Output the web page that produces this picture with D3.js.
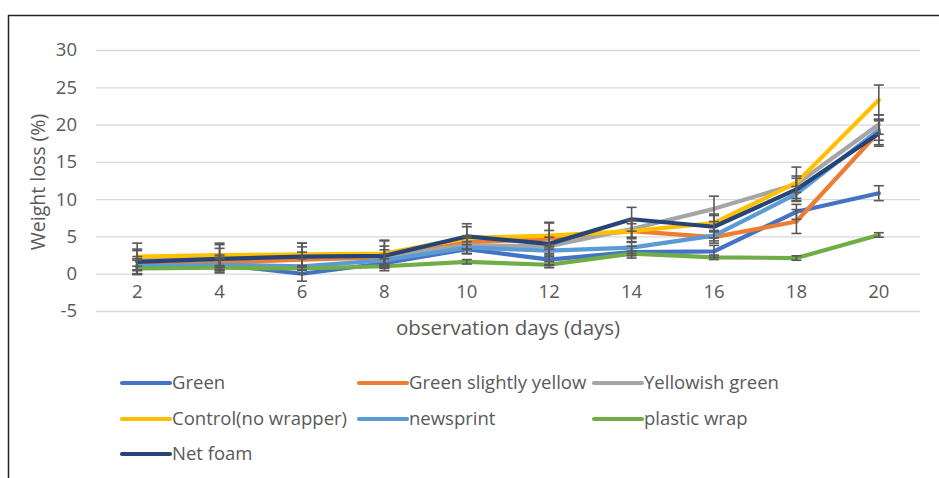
<!DOCTYPE html>
<html><head><meta charset="utf-8">
<script src="https://cdn.jsdelivr.net/npm/d3@7"></script>
<style>body{margin:0;background:#fff;}svg{display:block;font-family:"Open Sans",sans-serif;}</style>
</head><body>
<svg id="c" width="939" height="478"></svg>
<script>
const days = [2,4,6,8,10,12,14,16,18,20];
const yTicks = [-5,0,5,10,15,20,25,30];
const seriesNames = ["Green","Green slightly yellow","Yellowish green","Control(no wrapper)","newsprint","plastic wrap","Net foam"];
const seriesColors = ["#4472C4","#ED7D31","#A5A5A5","#FFC000","#5B9BD5","#70AD47","#264478"];
const green      = [0.9,1.2,0.0,1.4,3.3,1.9,2.9,3.0,8.3,10.8];
const greenSY    = [1.1,1.5,1.9,2.2,4.2,4.7,5.7,4.9,7.0,19.0];
const yellowishG = [1.8,2.1,2.3,2.4,3.8,3.7,6.0,8.7,12.0,20.0];
const control    = [2.3,2.5,2.6,2.7,4.8,5.1,5.7,6.8,12.2,23.3];
const newsprint  = [1.0,1.2,1.0,1.8,3.5,3.1,3.5,5.1,10.7,19.3];
const plastic    = [0.7,0.8,0.7,1.0,1.6,1.2,2.7,2.2,2.1,5.2];
const netFoam    = [1.6,2.0,2.3,2.4,5.0,4.0,7.3,6.3,11.3,18.8];
const greenErr      = [0.9,0.8,1.0,0.6,0.6,0.8,0.8,0.8,1.0,1.0];
const greenSYErr    = [1.2,1.0,1.0,1.0,0.9,1.1,1.0,0.8,1.6,1.7];
const yellowishGErr = [1.3,1.3,1.3,1.3,1.1,1.2,1.1,1.7,1.1,1.3];
const controlErr    = [1.8,1.6,1.5,1.8,1.5,1.8,1.5,1.2,2.1,2.0];
const newsprintErr  = [1.0,1.0,1.0,0.8,0.8,0.8,0.8,0.7,1.0,1.4];
const plasticErr    = [0.3,0.3,0.2,0.3,0.3,0.4,0.3,0.3,0.3,0.3];
const netFoamErr    = [1.7,1.9,1.8,2.0,1.7,2.8,1.6,1.5,1.5,1.7];

const allValues = [green,greenSY,yellowishG,control,newsprint,plastic,netFoam];
const allErr = [greenErr,greenSYErr,yellowishGErr,controlErr,newsprintErr,plasticErr,netFoamErr];

const svg = d3.select("#c");
const textCol = "#595959";
const ff = "'Open Sans',sans-serif";
// frame
svg.append("line").attr("x1",8).attr("x2",939).attr("y1",15.5).attr("y2",15.5).attr("stroke","#222").attr("stroke-width",1.5);
svg.append("line").attr("x1",8.5).attr("x2",8.5).attr("y1",15).attr("y2",478).attr("stroke","#222").attr("stroke-width",1.5);

const x = d3.scaleBand().domain(days).range([96,920]);
const y = d3.scaleLinear().domain([-5,30]).range([311,50]);

// grid
const gy = svg.append("g").attr("transform","translate(96,0)")
  .call(d3.axisLeft(y).tickValues(yTicks).tickSize(-824).tickPadding(19).tickFormat(d=>String(d)));
gy.select(".domain").remove();
gy.selectAll(".tick line").attr("stroke","#d9d9d9").attr("stroke-width",1.3);
gy.selectAll(".tick text").attr("fill",textCol).attr("font-size","18.5px").attr("font-family",ff);

const gx = svg.append("g").attr("transform","translate(0,274)")
  .call(d3.axisBottom(x).tickValues(days).tickSize(0).tickPadding(11).tickFormat(d=>String(d)));
gx.select(".domain").remove();
gx.selectAll(".tick text").attr("fill",textCol).attr("font-size","18.5px").attr("font-family",ff).attr("dy","0.71em");

const cx = d => x(d) + x.bandwidth()/2;

// axis titles
svg.append("text").attr("x",508).attr("y",335).attr("text-anchor","middle").attr("fill",textCol).attr("font-size","20.5px").text("observation days (days)");
svg.append("text").attr("transform","translate(45,182) rotate(-90)").attr("text-anchor","middle").attr("fill",textCol).attr("font-size","19.5px").text("Weight loss (%)");

const line = d3.line().x((d,i)=>cx(days[i])).y(d=>y(d));
allValues.forEach((vals,si)=>{
  svg.append("path").datum(vals).attr("d",line).attr("fill","none")
    .attr("stroke",seriesColors[si]).attr("stroke-width",4.2).attr("stroke-linejoin","round").attr("stroke-linecap","round");
});
// error bars
allValues.forEach((vals,si)=>{
  const g = svg.append("g").attr("stroke","#595959").attr("stroke-width",1.6);
  vals.forEach((v,i)=>{
    const e = allErr[si][i], px = cx(days[i]);
    g.append("line").attr("x1",px).attr("x2",px).attr("y1",y(v+e)).attr("y2",y(v-e));
    g.append("line").attr("x1",px-5).attr("x2",px+5).attr("y1",y(v+e)).attr("y2",y(v+e));
    g.append("line").attr("x1",px-5).attr("x2",px+5).attr("y1",y(v-e)).attr("y2",y(v-e));
  });
});

// legend
const legCols = [122,359,594];
const legRows = [383,419,454];
seriesNames.forEach((n,i)=>{
  const lx = legCols[i%3], ly = legRows[Math.floor(i/3)];
  svg.append("line").attr("x1",lx).attr("x2",lx+48).attr("y1",ly).attr("y2",ly)
    .attr("stroke",seriesColors[i]).attr("stroke-width",4.2).attr("stroke-linecap","round");
  svg.append("text").attr("x",lx+50).attr("y",ly).attr("dy","0.35em").attr("fill",textCol).attr("font-size","18.5px").text(n);
});
</script>
</body></html>
